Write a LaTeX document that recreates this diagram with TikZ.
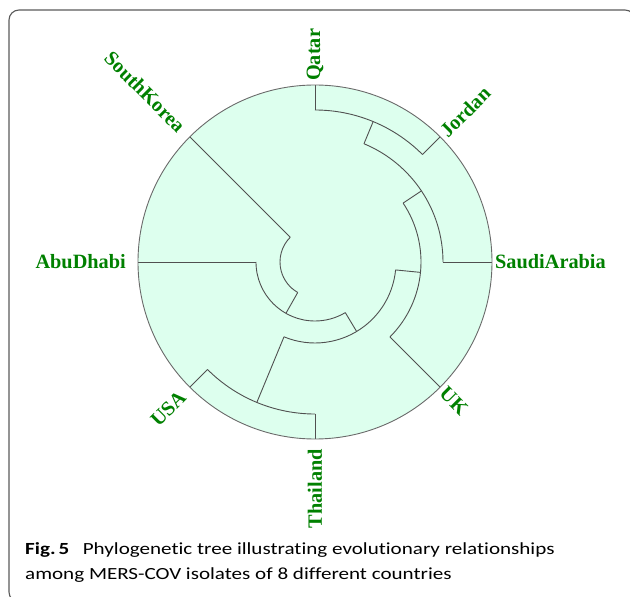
\documentclass[tikz,border=0pt]{standalone}
\usepackage{fontspec}
\setmainfont{Liberation Serif}
\newfontfamily\capfont[FakeStretch=1.24, Ligatures=NoCommon]{Carlito}
\definecolor{mint}{HTML}{DDFFEE}
\definecolor{treeline}{HTML}{505050}
\definecolor{ringgray}{HTML}{6A6A6A}
\definecolor{framegray}{HTML}{5A5A5A}
\definecolor{lblgreen}{HTML}{008000}
\newcommand{\lblfont}{\bfseries\fontsize{20.3}{21}\selectfont}
\begin{document}
\begin{tikzpicture}[x=1pt,y=1pt,
  branch/.style={draw=treeline, line width=0.9pt},
  lblR/.style={font=\lblfont, text=lblgreen, inner sep=0pt, anchor=west},
  lblL/.style={font=\lblfont, text=lblgreen, inner sep=0pt, anchor=east},
  captext/.style={font=\capfont\fontsize{17}{21}\selectfont, anchor=base west, inner sep=0pt}]
\useasboundingbox (-315,-335) rectangle (315,262);
\begin{scope}
  \clip (-315,-335) rectangle (315,262);
  \draw[framegray, line width=1.1pt, rounded corners=10pt] (-306,-340) rectangle (320,252);
\end{scope}
% disc
\fill[mint] (0,0) circle (177);
% leaf coordinates
\coordinate (Qin) at (90:152);   \coordinate (Qtip) at (90:177);
\coordinate (Jin) at (45:152);   \coordinate (Jtip) at (45:177);
\coordinate (Sin) at (0:128);    \coordinate (Stip) at (0:177);
\coordinate (Uin) at (-45:106);  \coordinate (Utip) at (-45:177);
\coordinate (Tin) at (-90:152);  \coordinate (Ttip) at (-90:177);
\coordinate (Ain) at (-135:152); \coordinate (Atip) at (-135:177);
\coordinate (Din) at (180:59);   \coordinate (Dtip) at (180:177);
\coordinate (Kin) at (135:35);   \coordinate (Ktip) at (135:177);
% internal nodes
\coordinate (F) at (67.5:152);      \coordinate (Fb) at (67.5:128);
\coordinate (E) at (33.75:128);     \coordinate (Eb) at (33.75:106);
\coordinate (D) at (-5.625:106);    \coordinate (Db) at (-5.625:81);
\coordinate (C) at (-112.5:152);    \coordinate (Cb) at (-112.5:81);
\coordinate (B) at (-59.0625:81);   \coordinate (Bb) at (-59.0625:59);
\coordinate (A) at (240.47:59);     \coordinate (Ab) at (240.47:35);
% leaf branches
\draw[branch] (Qin) -- (Qtip);
\draw[branch] (Jin) -- (Jtip);
\draw[branch] (Sin) -- (Stip);
\draw[branch] (Uin) -- (Utip);
\draw[branch] (Tin) -- (Ttip);
\draw[branch] (Ain) -- (Atip);
\draw[branch] (Din) -- (Dtip);
\draw[branch] (Kin) -- (Ktip);
% internal branches
\draw[branch] (F) -- (Fb);
\draw[branch] (E) -- (Eb);
\draw[branch] (D) -- (Db);
\draw[branch] (C) -- (Cb);
\draw[branch] (B) -- (Bb);
\draw[branch] (A) -- (Ab);
% arcs
\draw[branch] (Jin) arc[start angle=45, end angle=90, radius=152];
\draw[branch] (Sin) arc[start angle=0, end angle=67.5, radius=128];
\draw[branch] (Uin) arc[start angle=-45, end angle=33.75, radius=106];
\draw[branch] (Ain) arc[start angle=-135, end angle=-90, radius=152];
\draw[branch] (Cb) arc[start angle=-112.5, end angle=-5.625, radius=81];
\draw[branch] (Din) arc[start angle=180, end angle=300.9375, radius=59];
\draw[branch] (Kin) arc[start angle=135, end angle=240.47, radius=35];
% ring
\draw[ringgray, line width=0.9pt] (0,0) circle (177);
% labels
\node[lblR, rotate=90]  (Qatar)  at (90:181)   {Qatar};
\node[lblR, rotate=45]  (Jordan) at (45:181)   {Jordan};
\node[lblR]             (Saudi)  at (0:180)    {SaudiArabia};
\node[lblR, rotate=-45] (UK)     at (-45:181)  {UK};
\node[lblL, rotate=90]  (Thai)   at (-90:187)  {Thailand};
\node[lblL, rotate=45]  (USA)    at (-135:187) {USA};
\node[lblL]             (Abu)    at (180:189)  {AbuDhabi};
\node[lblL, rotate=-45] (Korea)  at (135:188)  {SouthKorea};
% caption
\node[captext] (cap1) at (-290,-292) {\textbf{Fig.\,5}\hspace{0.8em}Phylogenetic tree illustrating evolutionary relationships};
\node[captext] (cap2) at (-290,-317) {among MERS-COV isolates of 8 different countries};
\end{tikzpicture}
\end{document}
